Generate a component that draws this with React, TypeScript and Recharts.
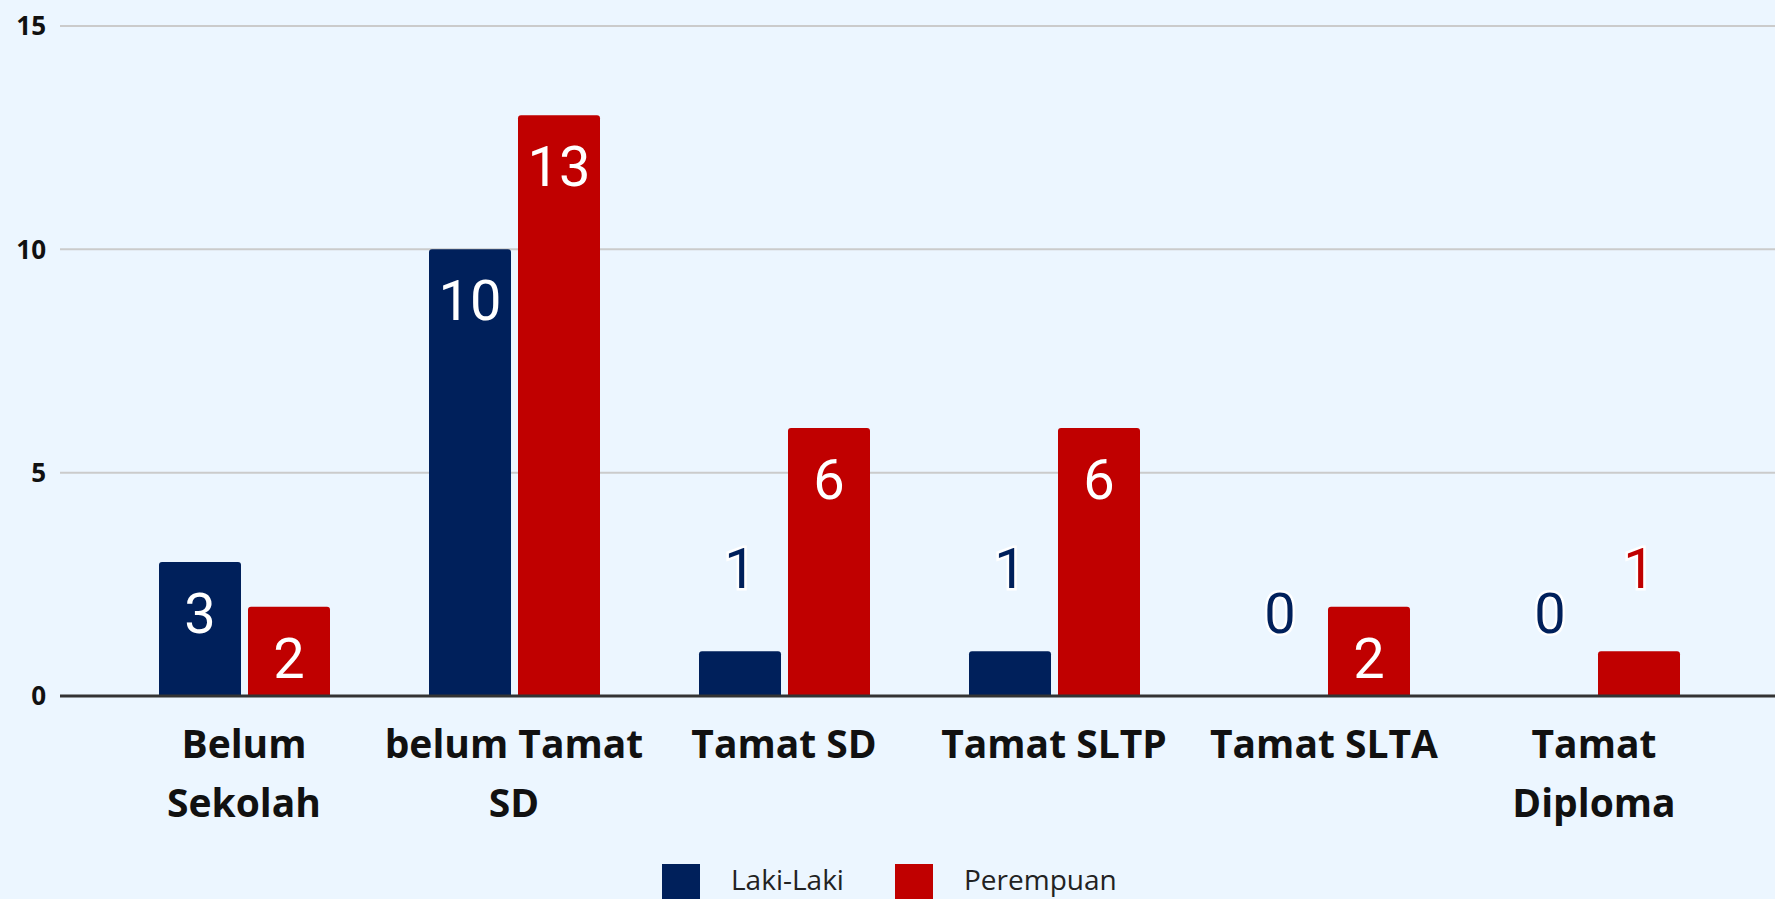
import { BarChart, Bar, XAxis, YAxis, CartesianGrid, LabelList } from "recharts";

const categories = [
  "Belum Sekolah",
  "belum Tamat SD",
  "Tamat SD",
  "Tamat SLTP",
  "Tamat SLTA",
  "Tamat Diploma",
];
// how each category label wraps under the axis
const tickLines = [
  ["Belum", "Sekolah"],
  ["belum Tamat", "SD"],
  ["Tamat SD"],
  ["Tamat SLTP"],
  ["Tamat SLTA"],
  ["Tamat", "Diploma"],
];
const lakiLaki = [3, 10, 1, 1, 0, 0];
const perempuan = [2, 13, 6, 6, 2, 1];
const yTicks = [0, 5, 10, 15];
const seriesKeys = ["laki", "perempuan"];
const seriesNames = ["Laki-Laki", "Perempuan"];
const seriesColors = ["#00205B", "#C00000"];

const data = categories.map((name, i) => ({
  name,
  laki: lakiLaki[i],
  perempuan: perempuan[i],
}));

const BG = "#ECF6FF";

function XTick(props: any) {
  const { x, y, payload } = props;
  const idx = categories.indexOf(payload.value);
  const lines = tickLines[idx] || [payload.value];
  return (
    <g>
      {lines.map((line, i) => (
        <text
          key={i}
          x={x}
          y={y + 62 + i * 59}
          textAnchor="middle"
          fontSize={39}
          fontWeight={700}
          fontFamily="'Open Sans', sans-serif"
          fill="#111"
        >
          {line}
        </text>
      ))}
    </g>
  );
}

function makeLabel(color: string) {
  return (props: any) => {
    const { x, y, width, height, value } = props;
    const cx = Number(x) + Number(width) / 2;
    const top = Number(y) + Math.min(0, Number(height));
    const inside = Number(value) >= 2;
    return (
      <text
        x={cx}
        y={inside ? top + 71 : top - 63}
        textAnchor="middle"
        fontSize={56}
        fontFamily="Roboto, sans-serif"
        fill={inside ? "#fff" : color}
        stroke={inside ? "none" : "#fff"}
        strokeWidth={inside ? 0 : 5}
        paintOrder="stroke"
      >
        {value}
      </text>
    );
  };
}

export default function App() {
  return (
    <div
      style={{
        position: "fixed",
        left: 0,
        top: 0,
        width: 1775,
        height: 899,
        background: BG,
        overflow: "hidden",
      }}
    >
      <BarChart
        width={1775}
        height={899}
        data={data}
        margin={{ top: 26, right: 0, left: 0, bottom: 0 }}
        barSize={82}
        barGap={7}
      >
        <CartesianGrid vertical={false} stroke="#CBCBCB" strokeWidth={2} />
        <XAxis
          dataKey="name"
          height={203}
          padding={{ left: 49, right: 46 }}
          tickLine={false}
          tickSize={0}
          tickMargin={0}
          axisLine={{ stroke: "#333", strokeWidth: 3 }}
          tick={<XTick />}
          interval={0}
        />
        <YAxis
          width={60}
          domain={[0, 15]}
          ticks={yTicks}
          axisLine={false}
          tickLine={false}
          tickSize={0}
          tickMargin={14}
          tick={{
            fontSize: 26,
            fontWeight: 700,
            fontFamily: "'Open Sans', sans-serif",
            fill: "#111",
          }}
        />
        {seriesKeys.map((key, i) => (
          <Bar
            key={key}
            dataKey={key}
            name={seriesNames[i]}
            fill={seriesColors[i]}
            radius={[3, 3, 0, 0]}
            minPointSize={0.5}
            isAnimationActive={false}
          >
            <LabelList dataKey={key} content={makeLabel(seriesColors[i])} />
          </Bar>
        ))}
      </BarChart>
      <div
        style={{
          position: "absolute",
          left: 662,
          top: 864,
          display: "flex",
          fontFamily: "'Open Sans', sans-serif",
          fontSize: 28,
          color: "#222",
        }}
      >
        {seriesNames.map((name, i) => (
          <div key={name} style={{ display: "flex", alignItems: "flex-start", width: 233 }}>
            <div style={{ width: 38, height: 40, background: seriesColors[i] }} />
            <div style={{ marginLeft: 31, lineHeight: "36px", marginTop: -3 }}>{name}</div>
          </div>
        ))}
      </div>
    </div>
  );
}
